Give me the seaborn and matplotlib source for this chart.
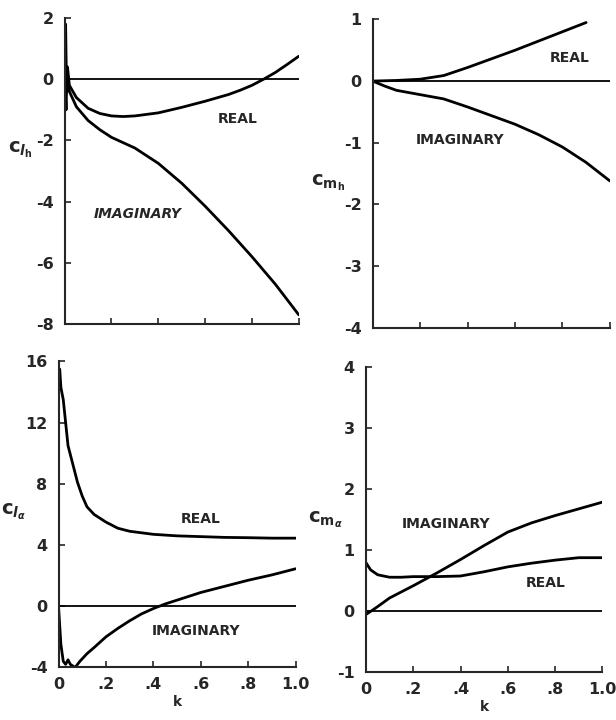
import numpy as np
import pandas as pd
import matplotlib
matplotlib.use("Agg")
import matplotlib.pyplot as plt
import seaborn as sns

# ---- data ----
k_lh_real = [0.0, 0.004, 0.008, 0.012, 0.02, 0.05, 0.1, 0.15, 0.2, 0.25, 0.3, 0.4, 0.5, 0.6, 0.7, 0.75, 0.8, 0.85, 0.9, 0.95, 1.0]
lh_real = [0.0, 1.8, -0.4, 0.4, -0.2, -0.6, -0.95, -1.12, -1.2, -1.22, -1.2, -1.1, -0.92, -0.72, -0.5, -0.36, -0.2, 0.0, 0.22, 0.48, 0.75]
k_lh_imag = [0.0, 0.006, 0.01, 0.02, 0.05, 0.1, 0.15, 0.2, 0.3, 0.4, 0.5, 0.6, 0.7, 0.8, 0.9, 1.0]
lh_imag = [0.0, -1.0, 0.3, -0.4, -0.9, -1.35, -1.65, -1.9, -2.25, -2.75, -3.4, -4.15, -4.95, -5.8, -6.7, -7.7]

k_mh_real = [0.0, 0.1, 0.2, 0.3, 0.4, 0.5, 0.6, 0.7, 0.8, 0.9]
mh_real = [0.0, 0.01, 0.03, 0.09, 0.22, 0.36, 0.5, 0.65, 0.8, 0.95]
k_mh_imag = [0.0, 0.05, 0.1, 0.2, 0.3, 0.4, 0.5, 0.6, 0.7, 0.8, 0.9, 1.0]
mh_imag = [0.0, -0.08, -0.15, -0.22, -0.29, -0.42, -0.56, -0.7, -0.87, -1.07, -1.32, -1.62]

k_la_real = [0.005, 0.01, 0.02, 0.03, 0.04, 0.06, 0.08, 0.1, 0.12, 0.15, 0.2, 0.25, 0.3, 0.4, 0.5, 0.6, 0.7, 0.8, 0.9, 1.0]
la_real = [15.5, 14.3, 13.5, 12.0, 10.5, 9.3, 8.1, 7.2, 6.5, 6.0, 5.5, 5.1, 4.9, 4.7, 4.6, 4.55, 4.5, 4.48, 4.45, 4.45]
k_la_imag = [0.0, 0.01, 0.02, 0.03, 0.04, 0.05, 0.07, 0.09, 0.12, 0.15, 0.2, 0.25, 0.3, 0.35, 0.4, 0.45, 0.5, 0.6, 0.7, 0.8, 0.9, 1.0]
la_imag = [0.0, -2.5, -3.6, -3.8, -3.5, -3.8, -4.0, -3.6, -3.1, -2.7, -2.0, -1.45, -0.95, -0.5, -0.15, 0.15, 0.4, 0.9, 1.3, 1.7, 2.05, 2.45]

k_ma_real = [0.0, 0.02, 0.05, 0.1, 0.15, 0.2, 0.3, 0.4, 0.5, 0.6, 0.7, 0.8, 0.9, 1.0]
ma_real = [0.8, 0.68, 0.6, 0.56, 0.56, 0.57, 0.57, 0.58, 0.65, 0.73, 0.79, 0.84, 0.88, 0.88]
k_ma_imag = [0.0, 0.02, 0.05, 0.1, 0.15, 0.2, 0.3, 0.4, 0.5, 0.6, 0.7, 0.8, 0.9, 1.0]
ma_imag = [-0.05, 0.0, 0.08, 0.22, 0.32, 0.42, 0.63, 0.85, 1.08, 1.3, 1.45, 1.57, 1.68, 1.79]

x_ticks = [0, 0.2, 0.4, 0.6, 0.8, 1.0]
x_ticklabels = ["0", ".2", ".4", ".6", ".8", "1.0"]

sns.set_style("ticks")
plt.rcParams["font.family"] = ["DejaVu Sans"]
plt.rcParams["font.weight"] = "bold"
plt.rcParams["mathtext.fontset"] = "dejavusans"

fig = plt.figure(figsize=(6.16, 7.2), dpi=100)
axes = [
    fig.add_axes([0.105, 0.55, 0.38, 0.425]),
    fig.add_axes([0.605, 0.545, 0.385, 0.428]),
    fig.add_axes([0.095, 0.073, 0.385, 0.425]),
    fig.add_axes([0.594, 0.066, 0.384, 0.424]),
]

panels = [
    dict(real=(k_lh_real, lh_real), imag=(k_lh_imag, lh_imag), ylim=(-8, 2), yticks=[2, 0, -2, -4, -6, -8],
         ylabel=r"$\mathbf{c}_{\mathbfit{l}_{\mathbf{h}}}$", lab_xy=(-0.19, 0.57),
         real_pos=(0.74, -1.3), imag_pos=(0.31, -4.4), imag_italic=True),
    dict(real=(k_mh_real, mh_real), imag=(k_mh_imag, mh_imag), ylim=(-4, 1), yticks=[1, 0, -1, -2, -3, -4],
         ylabel=r"$\mathbf{c}_{\mathbf{m}_{\mathbf{h}}}$", lab_xy=(-0.19, 0.47),
         real_pos=(0.83, 0.37), imag_pos=(0.37, -0.95), imag_italic=False),
    dict(real=(k_la_real, la_real), imag=(k_la_imag, la_imag), ylim=(-4, 16), yticks=[16, 12, 8, 4, 0, -4],
         ylabel=r"$\mathbf{c}_{\mathbfit{l}_{\alpha}}$", lab_xy=(-0.19, 0.51),
         real_pos=(0.6, 5.7), imag_pos=(0.58, -1.65), imag_italic=False),
    dict(real=(k_ma_real, ma_real), imag=(k_ma_imag, ma_imag), ylim=(-1, 4), yticks=[4, 3, 2, 1, 0, -1],
         ylabel=r"$\mathbf{c}_{\mathbf{m}_{\alpha}}$", lab_xy=(-0.17, 0.50),
         real_pos=(0.76, 0.46), imag_pos=(0.34, 1.43), imag_italic=False),
]

for i, (ax, p) in enumerate(zip(axes, panels)):
    ax.axhline(0, color="black", lw=1.3, xmin=0, xmax=1)
    for key in ("real", "imag"):
        kk, vv = p[key]
        df = pd.DataFrame({"k": kk, "c": vv})
        sns.lineplot(data=df, x="k", y="c", ax=ax, color="black", lw=2.0, sort=False)
    ax.set_xlim(0, 1.0)
    ax.set_ylim(*p["ylim"])
    ax.set_yticks(p["yticks"])
    ax.set_yticklabels([str(t) if t >= 0 else "-" + str(-t) for t in p["yticks"]])
    ax.set_xticks(x_ticks)
    if i >= 2:
        ax.set_xticklabels(x_ticklabels)
        ax.set_xlabel("k", fontsize=10, fontweight="bold", labelpad=2)
    else:
        ax.set_xticklabels([])
        ax.set_xlabel("")
    ax.set_ylabel(p["ylabel"], rotation=0, fontsize=14, ha="center", va="center")
    ax.yaxis.set_label_coords(*p["lab_xy"])
    ax.tick_params(axis="x", direction="in", length=4, width=1.2, labelsize=11.5, pad=7)
    ax.tick_params(axis="y", direction="in", length=4, width=1.2, labelsize=11.5, pad=8)
    for lab in ax.get_xticklabels() + ax.get_yticklabels():
        lab.set_fontweight("bold")
    for s in ("top", "right"):
        ax.spines[s].set_visible(False)
    for s in ("left", "bottom"):
        ax.spines[s].set_linewidth(1.5)
    ax.text(*p["real_pos"], "REAL", fontsize=10, fontweight="bold", ha="center", va="center")
    ax.text(*p["imag_pos"], "IMAGINARY", fontsize=10, fontweight="bold", ha="center", va="center",
            style="italic" if p["imag_italic"] else "normal")

fig.savefig("out.png", dpi=100)
